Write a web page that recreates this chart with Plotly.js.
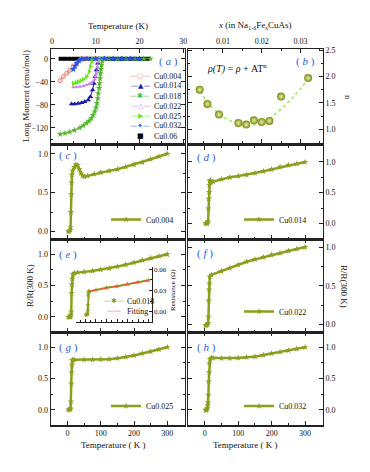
<!DOCTYPE html>
<html>
<head>
<meta charset="utf-8">
<script src="https://cdn.plot.ly/plotly-3.0.1.min.js"></script>
<style>
  html, body { margin: 0; padding: 0; background: #fff; }
  #plot { width: 370px; height: 472px; }
</style>
</head>
<body>
<div id="plot"></div>
<script>
// ---- panel (a): long moment (emu/mol) vs temperature (K)
let namesA = ["Cu0.004", "Cu0.014", "Cu0.018", "Cu0.022", "Cu0.025", "Cu0.032", "Cu0.06"];
let tCu004 = [1.9, 2.6, 3.4, 4.1, 4.9, 5.7, 6.4, 6.8, 8, 10, 12];
let mCu004 = [-38, -31, -25, -20, -12.7, -7, -2.3, 0, 0, 0, 0];
let tCu014 = [4.5, 5.2, 6.0, 6.8, 7.5, 8.3, 8.8, 9.3, 9.6, 9.9, 10.2, 10.5, 10.7, 12, 14, 16, 18, 20];
let mCu014 = [-78.8, -78.5, -77.6, -76.5, -74.8, -71.8, -66, -54.4, -42.8, -31.3, -19.7, -8, 0, 0, 0, 0, 0, 0];
let tCu018 = [1.9, 3, 4.1, 5.2, 6.4, 7.2, 7.9, 8.5, 9.0, 9.4, 9.8, 10.1, 10.3, 10.5, 10.6, 10.8, 10.9, 11.0, 11.1, 11.2, 11.3, 11.5, 11.7, 13, 15, 17, 19, 21, 22.5];
let mCu018 = [-131, -129.5, -127, -124, -120, -116, -112, -108, -103.6, -98, -92, -85, -77.6, -69, -60, -51, -42.8, -34, -25.4, -18, -11, -4, 0, 0, 0, 0, 0, 0, 0];
let tCu022 = [4.9, 5.6, 6.4, 7.2, 7.9, 8.5, 9.0, 9.5, 9.8, 10.0, 10.2, 10.4, 10.6, 10.7, 12];
let mCu022 = [-49.7, -49.3, -48.7, -47.3, -45.7, -43.8, -41.7, -39, -35.8, -31, -25.4, -13.9, -5.2, 0, 0];
let tCu025 = [4.9, 5.5, 6.0, 6.6, 7.2, 7.9, 8.5, 8.8, 9.1, 9.2, 10, 11];
let mCu025 = [-42.8, -41.5, -40, -38, -35.8, -31.3, -22.6, -13.9, -5.2, 0, 0, 0];
let tCu032 = [4.9, 5.3, 5.7, 6.2, 6.8, 8, 10, 12, 14, 16, 18, 20];
let mCu032 = [-18.5, -12.7, -8, -3.5, -0.5, 0, 0, 0, 0, 0, 0, 0];
let tCu06 = [2, 3, 4, 5, 6, 7, 8, 9, 10, 11, 12, 13, 14, 15, 16, 17, 18, 19, 20, 21, 22];
let mCu06 = [0, 0, 0, 0, 0, 0, 0, 0, 0, 0, 0, 0, 0, 0, 0, 0, 0, 0, 0, 0, 0];

// ---- panel (b): exponent n vs Cu content x
let xCu = [0.004, 0.006, 0.009, 0.014, 0.016, 0.018, 0.020, 0.022, 0.025, 0.032];
let nExp = [1.75, 1.48, 1.28, 1.12, 1.09, 1.17, 1.14, 1.16, 1.62, 1.97];
let xFit = [0.004, 0.008, 0.012, 0.016, 0.020, 0.024, 0.028, 0.032];
let nFit = [1.72, 1.36, 1.16, 1.09, 1.12, 1.32, 1.60, 1.95];

// ---- panels (c)-(h): R/R(300 K) vs temperature
let tC = [2, 5, 8, 9, 10, 11, 12, 13, 15, 20, 25, 30, 35, 40, 45, 50, 60, 80, 100, 125, 150, 175, 200, 225, 250, 275, 300];
let rC = [0.0, 0.0, 0.02, 0.05, 0.25, 0.48, 0.63, 0.73, 0.78, 0.83, 0.86, 0.85, 0.80, 0.75, 0.72, 0.705, 0.715, 0.74, 0.76, 0.78, 0.80, 0.83, 0.86, 0.89, 0.93, 0.965, 1.0];
let tD = [2, 5, 8, 10, 11, 12, 13, 14, 15, 17, 20, 25, 50, 75, 100, 125, 150, 175, 200, 225, 250, 275, 300];
let rD = [0.0, 0.0, 0.0, 0.03, 0.24, 0.40, 0.51, 0.62, 0.69, 0.70, 0.67, 0.68, 0.72, 0.75, 0.77, 0.79, 0.82, 0.85, 0.88, 0.92, 0.95, 0.97, 1.0];
let tE = [2, 5, 8, 10, 11, 12, 13, 14, 16, 20, 30, 50, 75, 100, 125, 150, 175, 200, 225, 250, 275, 300];
let rE = [0.0, 0.0, 0.0, 0.02, 0.085, 0.38, 0.52, 0.61, 0.68, 0.70, 0.71, 0.72, 0.735, 0.755, 0.775, 0.805, 0.835, 0.87, 0.905, 0.94, 0.97, 1.0];
let tF = [2, 5, 8, 10, 11, 12, 13, 14, 15, 20, 50, 75, 100, 125, 150, 175, 200, 225, 250, 275, 300];
let rF = [-0.01, -0.01, 0.0, 0.02, 0.1, 0.31, 0.45, 0.53, 0.62, 0.64, 0.69, 0.73, 0.77, 0.81, 0.84, 0.87, 0.90, 0.92, 0.95, 0.975, 1.0];
let tG = [2, 5, 8, 9, 10, 11, 12, 13, 14, 16, 20, 50, 75, 100, 125, 150, 175, 200, 225, 250, 275, 300];
let rG = [0.0, 0.0, 0.01, 0.02, 0.13, 0.42, 0.60, 0.72, 0.79, 0.80, 0.80, 0.80, 0.80, 0.805, 0.81, 0.825, 0.845, 0.87, 0.90, 0.93, 0.965, 1.0];
let tH = [2, 4, 6, 8, 9, 10, 11, 12, 13, 14, 16, 20, 25, 50, 75, 100, 125, 150, 175, 200, 225, 250, 275, 300];
let rH = [0.0, -0.01, 0.0, 0.02, 0.07, 0.12, 0.24, 0.45, 0.60, 0.74, 0.81, 0.83, 0.83, 0.825, 0.825, 0.83, 0.84, 0.85, 0.875, 0.90, 0.925, 0.95, 0.975, 1.0];

// ---- inset of (e): resistance (ohm) of Cu0.018 and its fit
let tIn = [2, 6, 10, 11, 12, 13, 14, 16, 20, 50, 100, 150, 200, 250, 300];
let rIn = [-0.004, -0.004, -0.003, 0.002, 0.009, 0.023, 0.027, 0.029, 0.029, 0.031, 0.034, 0.036, 0.039, 0.042, 0.0445];
let tInFit = [12, 50, 100, 150, 200, 250, 300];
let rInFit = [0.0285, 0.031, 0.0335, 0.036, 0.039, 0.0418, 0.0445];

// ---- styles
let font = "Liberation Serif";
let olive = "#8c9e1e";
let blue = "#2f5bea";
function px(v) { return v / 370; }
function py(v) { return 1 - v / 472; }

function axis(extra, minorDtick) {
    let a = {
        showline: true, mirror: "ticks", linecolor: "#222", linewidth: 1.5,
        ticks: "inside", ticklen: 4, tickwidth: 1, tickcolor: "#222",
        showgrid: false, zeroline: false,
        tickfont: {family: font, size: 8, color: "#111"},
        minor: {dtick: minorDtick, ticks: "inside", ticklen: 2, tickwidth: 1, tickcolor: "#222"}
    };
    return Object.assign(a, extra);
}

let leftX = [px(51), px(184.5)];
let rightX = [px(188), px(322.5)];
let rowAB = [py(143.3), py(49)];
let rowCD = [py(239.3), py(146)];
let rowEF = [py(332.3), py(239.3)];
let rowGH = [py(425), py(332.3)];

// ---- traces
let colorsA = ["#f07878", "#1a1aa8", "#4db82a", "#cc88f0", "#66e81c", "#1f55f0", "#000000"];
let data = [
    {x: tCu06, y: mCu06, mode: "lines+markers", line: {color: "#000", width: 3}, marker: {symbol: "square", size: 4, color: "#000"}},
    {x: tCu004, y: mCu004, mode: "lines+markers", line: {color: colorsA[0], width: 1}, marker: {symbol: "circle-open", size: 4, color: colorsA[0]}},
    {x: tCu014, y: mCu014, mode: "lines+markers", line: {color: colorsA[1], width: 1}, marker: {symbol: "triangle-up", size: 5, color: colorsA[1]}},
    {x: tCu018, y: mCu018, mode: "lines+markers", line: {color: "#8c8c28", width: 1}, marker: {symbol: "star", size: 5, color: colorsA[2]}},
    {x: tCu022, y: mCu022, mode: "lines+markers", line: {color: colorsA[3], width: 1}, marker: {symbol: "triangle-up", size: 4, color: colorsA[3]}},
    {x: tCu025, y: mCu025, mode: "lines+markers", line: {color: colorsA[4], width: 1}, marker: {symbol: "triangle-right", size: 5, color: colorsA[4]}},
    {x: tCu032, y: mCu032, mode: "lines+markers", line: {color: colorsA[5], width: 1}, marker: {symbol: "star", size: 5, color: colorsA[5]}}
];
data.forEach(function(d) { d.xaxis = "x"; d.yaxis = "y"; d.showlegend = false; });

data.push({x: xFit, y: nFit, xaxis: "x2", yaxis: "y2", mode: "lines", line: {color: "#99ee44", width: 1.5, dash: "dot", shape: "spline"}, showlegend: false});
data.push({x: xCu, y: nExp, xaxis: "x2", yaxis: "y2", mode: "markers", showlegend: false,
    marker: {size: 8, color: "#7a8a10", gradient: {type: "radial", color: "#eaf2a8"}, line: {width: 0}}});

let lower = [
    [tC, rC, "x3", "y3", "Cu0.004", "legend"],
    [tD, rD, "x4", "y4", "Cu0.014", "legend2"],
    [tE, rE, "x5", "y5", "Cu0.018", null],
    [tF, rF, "x6", "y6", "Cu0.022", "legend4"],
    [tG, rG, "x7", "y7", "Cu0.025", "legend5"],
    [tH, rH, "x8", "y8", "Cu0.032", "legend6"]
];
lower.forEach(function(p) {
    let tr = {x: p[0], y: p[1], xaxis: p[2], yaxis: p[3], name: p[4], mode: "lines+markers",
        line: {color: olive, width: 2.5}, marker: {symbol: "star", size: 5, color: olive}};
    if (p[5]) { tr.legend = p[5]; } else { tr.showlegend = false; }
    data.push(tr);
});
data.push({x: tIn, y: rIn, xaxis: "x9", yaxis: "y9", showlegend: false, mode: "lines+markers",
    line: {color: olive, width: 2}, marker: {symbol: "star", size: 4, color: olive}});
data.push({x: tInFit, y: rInFit, xaxis: "x9", yaxis: "y9", showlegend: false, mode: "lines",
    line: {color: "#ff4a3a", width: 1}});

// ---- layout
let xT = {range: [-50, 352], dtick: 100, tick0: 0, showticklabels: false};
let yR = {dtick: 0.5, tick0: 0, tickformat: ".1f"};
function leg(x, y) {
    return {x: x, y: y, xanchor: "left", yanchor: "top", bgcolor: "rgba(0,0,0,0)",
        font: {family: font, size: 8, color: "#111"}, itemwidth: 30, tracegroupgap: 0};
}

let annotations = [];
function note(text, x, y, opts) {
    annotations.push(Object.assign({text: text, x: px(x), y: py(y), xref: "paper", yref: "paper", showarrow: false,
        xanchor: "center", yanchor: "middle", font: {family: font, size: 9, color: "#111"}}, opts || {}));
}

// legend of (a), one line per series
let symbolsA = ["—○—", "—▲—", "—✱—", "—△—", "—▶—", "—✦—", "■"];
namesA.forEach(function(n, i) {
    let yy = 76 + i * 10;
    note(symbolsA[i], 140, yy, {font: {family: "DejaVu Sans", size: 7, color: colorsA[i]}});
    note(n, 152, yy, {xanchor: "left", font: {family: font, size: 8, color: "#111"}});
});
// legend of the inset in (e)
note("—✱—", 114, 301, {font: {family: "DejaVu Sans", size: 7, color: olive}});
note("Cu0.018", 125, 301, {xanchor: "left", font: {family: font, size: 8, color: "#111"}});
note("——", 114, 311, {font: {family: "DejaVu Sans", size: 7, color: "#ff4a3a"}});
note("Fitting", 125, 311, {xanchor: "left", font: {family: font, size: 8, color: "#111"}});

// axis titles
note("Temperature (K)", 118, 26);
note("<i>x</i> (in Na<sub>1-δ</sub>Fe<sub><i>x</i></sub>CuAs)", 255, 26);
note("Long Moment (emu/mol)", 26, 96, {textangle: -90});
note("n", 348, 97, {textangle: 90});
note("R/R(300 K)", 30, 286, {textangle: -90});
note("R/R(300 K)", 344, 286, {textangle: 90});
note("Temperature ( K )", 113, 445);
note("Temperature ( K )", 245, 445);
note("Resistance (Ω)", 173, 290, {textangle: -90, font: {family: font, size: 7, color: "#111"}});
note("<i>ρ(T)</i> = <i>ρ</i> + AT<sup>n</sup>", 237, 68, {font: {family: font, size: 10, color: "#111"}});

let labels = [["a", 168, 62], ["b", 305, 62], ["c", 68, 155], ["d", 207, 157], ["e", 68, 254], ["f", 205, 253], ["g", 68, 347], ["h", 206, 347]];
labels.forEach(function(l) {
    note("( <i>" + l[0] + "</i> )", l[1], l[2], {font: {family: font, size: 11, color: blue}});
});

let layout = {
    width: 370, height: 472,
    margin: {l: 0, r: 0, t: 0, b: 0},
    paper_bgcolor: "#fff", plot_bgcolor: "rgba(0,0,0,0)",
    font: {family: font, color: "#111"},
    xaxis: axis({domain: leftX, anchor: "y", side: "top", range: [-0.2, 30.3], dtick: 10, tick0: 0}, 5),
    yaxis: axis({domain: rowAB, anchor: "x", range: [-147, 17], dtick: 40, tick0: 0}, 20),
    xaxis2: axis({domain: rightX, anchor: "y2", side: "top", range: [0.001, 0.0357], dtick: 0.01, tick0: 0}, 0.005),
    yaxis2: axis({domain: rowAB, anchor: "x2", side: "right", range: [0.736, 2.52], dtick: 0.5, tick0: 0, tickformat: ".1f"}, 0.25),
    xaxis3: axis(Object.assign({domain: leftX, anchor: "y3"}, xT), 50),
    yaxis3: axis(Object.assign({domain: rowCD, anchor: "x3", range: [-0.1, 1.1]}, yR), 0.25),
    xaxis4: axis(Object.assign({domain: rightX, anchor: "y4"}, xT), 50),
    yaxis4: axis(Object.assign({domain: rowCD, anchor: "x4", side: "right", range: [-0.26, 1.26]}, yR), 0.25),
    xaxis5: axis(Object.assign({domain: leftX, anchor: "y5"}, xT), 50),
    yaxis5: axis(Object.assign({domain: rowEF, anchor: "x5", range: [-0.245, 1.24]}, yR), 0.25),
    xaxis6: axis(Object.assign({domain: rightX, anchor: "y6"}, xT), 50),
    yaxis6: axis(Object.assign({domain: rowEF, anchor: "x6", side: "right", range: [-0.1, 1.1]}, yR), 0.25),
    xaxis7: axis(Object.assign({domain: leftX, anchor: "y7"}, xT, {showticklabels: true}), 50),
    yaxis7: axis(Object.assign({domain: rowGH, anchor: "x7", range: [-0.245, 1.24]}, yR), 0.25),
    xaxis8: axis(Object.assign({domain: rightX, anchor: "y8"}, xT, {showticklabels: true}), 50),
    yaxis8: axis(Object.assign({domain: rowGH, anchor: "x8", side: "right", range: [-0.245, 1.24]}, yR), 0.25),
    xaxis9: axis({domain: [px(76), px(151.7)], anchor: "y9", range: [-45, 315], dtick: 50, tick0: 0, showticklabels: false, mirror: false, linewidth: 1, ticklen: 3}, 25),
    yaxis9: axis({domain: [py(321.7), py(266.7)], anchor: "x9", side: "right", range: [-0.014, 0.0637], dtick: 0.03, tick0: 0, tickformat: ".2f", mirror: false, linewidth: 1, ticklen: 3,
        tickfont: {family: font, size: 7, color: "#111"}}, 0.015),
    legend: leg(px(106), py(205)),
    legend2: leg(px(239), py(205)),
    legend4: leg(px(239), py(297)),
    legend5: leg(px(106), py(391.5)),
    legend6: leg(px(239), py(391.5)),
    annotations: annotations
};

Plotly.newPlot("plot", data, layout, {displayModeBar: false, staticPlot: true});
</script>
</body>
</html>
